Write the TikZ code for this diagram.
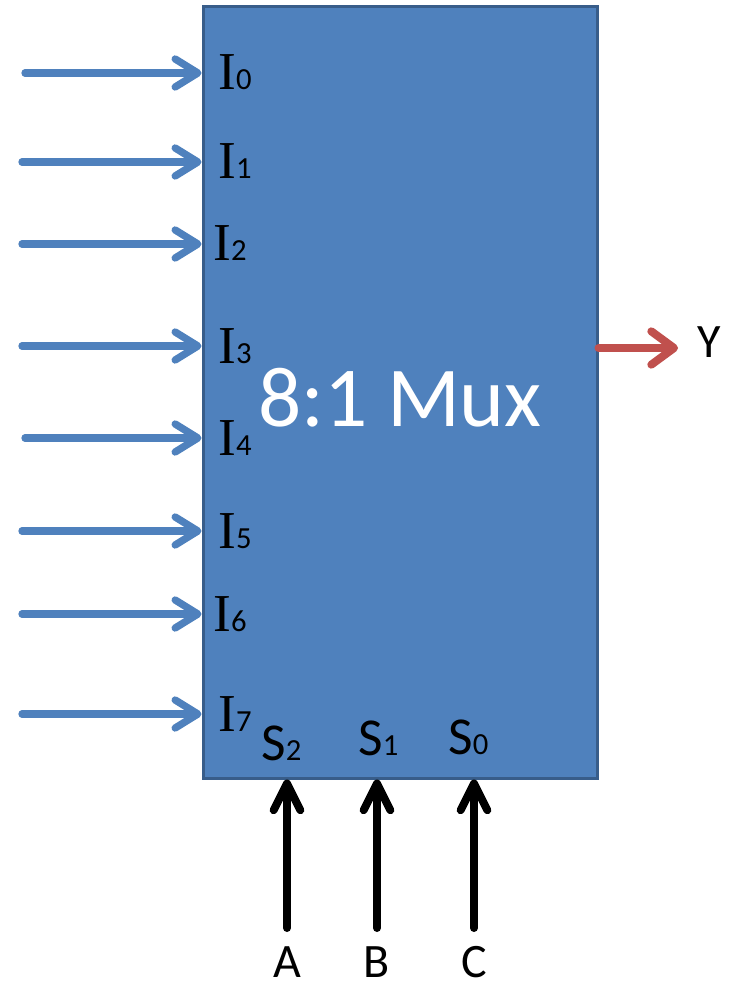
\documentclass[tikz,border=0pt]{standalone}
\usepackage{fontspec}
\setmainfont{Carlito}
\newfontfamily\serifI{Liberation Serif}
\usetikzlibrary{arrows.meta,positioning}

\definecolor{muxblue}{HTML}{4F81BD}
\definecolor{muxedge}{HTML}{385D8A}
\definecolor{outred}{HTML}{C0504D}

\newcommand{\lblfont}{\fontsize{36}{42}\selectfont}
\newcommand{\subfont}{\fontsize{23}{26}\selectfont}
\newcommand{\inlab}[1]{{\serifI\fontsize{40}{44}\selectfont I}{\subfont #1}}

\begin{document}
\begin{tikzpicture}[x=0.75pt, y=-0.75pt,
  inarrow/.style={line width=5.5pt, muxblue, line cap=round,
    -{Straight Barb[round, length=17pt, width=21pt]}},
  selarrow/.style={line width=6pt, black, line cap=round,
    -{Straight Barb[round, length=20pt, width=20pt]}},
  outarrow/.style={line width=6pt, outred, line cap=round,
    -{Straight Barb[round, length=17pt, width=25pt]}},
  pinlabel/.style={anchor=base west, inner sep=0pt, font=\lblfont}]
\useasboundingbox (0,0) rectangle (734,987);

% mux body
\node (mux) [draw=muxedge, fill=muxblue, line width=2.25pt, inner sep=0pt,
  minimum width=295.5pt, minimum height=578.25pt] at (400,392.5) {};
\node (title) [text=white, font=\fontsize{64}{70}\selectfont] at (400,398) {8:1 Mux};

% data inputs I0..I7
\foreach \k/\y/\xs/\xl in {0/73/25/218, 1/162/22/218, 2/244/22/213, 3/346/22/218,
                           4/438/25/218, 5/531/22/218, 6/614/22/213, 7/714/22/218} {
  \coordinate (in\k) at (\xs,\y);
  \draw[inarrow] (in\k) -- (in\k -| mux.west);
  \node (lbl\k) [pinlabel] at (\xl,\y+17) {\inlab{\k}};
}

% select inputs
\node (s2) [pinlabel, font=\fontsize{40}{44}\selectfont] at (261,760) {S{\subfont 2}};
\node (s1) [pinlabel, font=\fontsize{40}{44}\selectfont] at (358,755) {S{\subfont 1}};
\node (s0) [pinlabel, font=\fontsize{40}{44}\selectfont] at (448,754) {S{\subfont 0}};
\foreach \n/\x in {A/287, B/377, C/474} {
  \node (sel\n) [anchor=base, inner sep=0pt, font=\lblfont] at (\x,977) {\n};
  \coordinate (from\n) at (\x,928);
  \draw[selarrow] (from\n) -- (from\n |- mux.south);
}

% output
\coordinate (yend) at (678,348);
\draw[outarrow] (mux.east |- yend) -- (yend);
\node (out) [pinlabel] at (697,357) {Y};
\end{tikzpicture}
\end{document}
